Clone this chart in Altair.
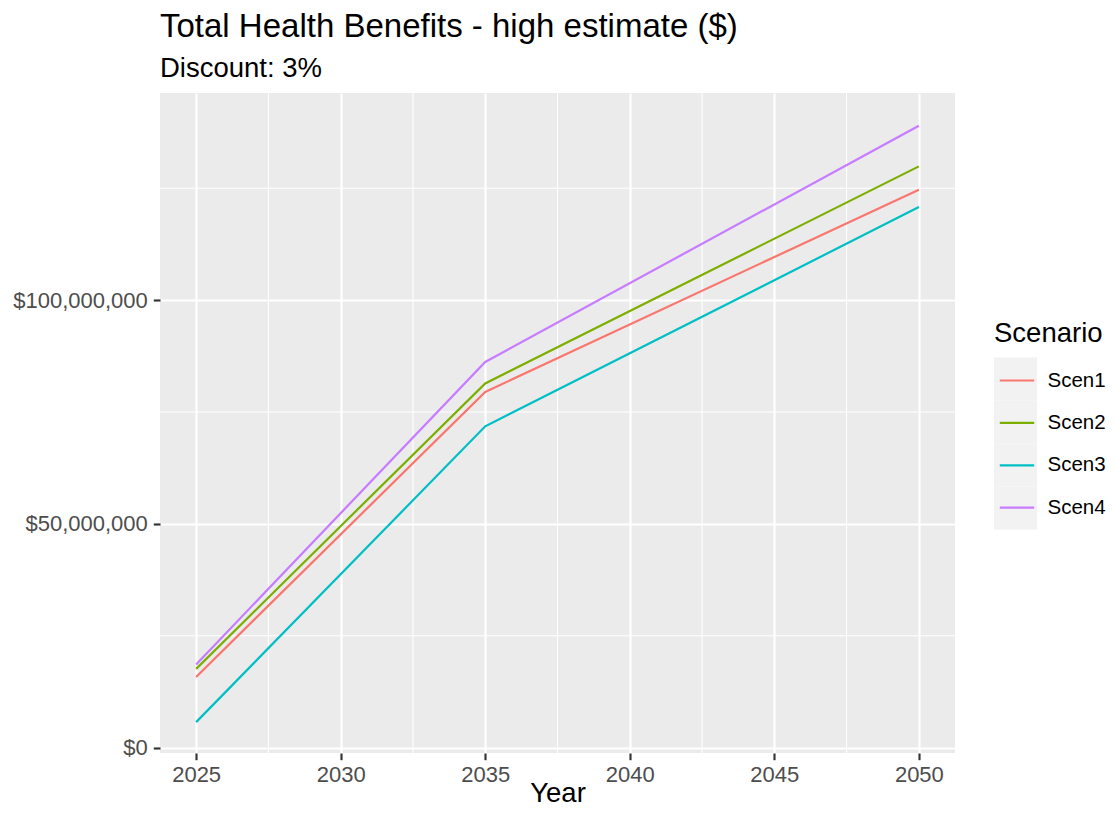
import altair as alt
import pandas as pd

# ---- data ----
years = [2025, 2035, 2050]
scenarios = ["Scen1", "Scen2", "Scen3", "Scen4"]
scen1 = [15.8e6, 79.5e6, 124.7e6]
scen2 = [17.6e6, 81.4e6, 129.9e6]
scen3 = [5.7e6, 71.8e6, 120.8e6]
scen4 = [18.6e6, 86.2e6, 139.0e6]
colors = ["#F8766D", "#7CAE00", "#00BFC4", "#C77CFF"]
x_ticks = [2025, 2030, 2035, 2040, 2045, 2050]
x_minor = [2027.5, 2032.5, 2037.5, 2042.5, 2047.5]
y_ticks = [0, 50e6, 100e6]
y_minor = [25e6, 75e6, 125e6]

rows = []
for name, vals in zip(scenarios, [scen1, scen2, scen3, scen4]):
    for yr, v in zip(years, vals):
        rows.append({"Year": yr, "Value": v, "Scenario": name, "Key": name})
df = pd.DataFrame(rows)

FONT = "Liberation Sans"

xscale = alt.Scale(domain=[2023.75, 2051.25], nice=False, zero=False)
yscale = alt.Scale(domain=[-1.2e6, 146.3e6], nice=False, zero=False)

x_axis = alt.Axis(
    values=x_ticks, format="d", title="Year", grid=True, gridColor="white",
    gridWidth=2.13, domain=False, tickColor="#333333", tickWidth=2.13,
    tickSize=6.7, labelFont=FONT, labelFontSize=22, labelColor="#4D4D4D",
    labelPadding=5, labelFlush=False, labelOverlap=False,
    titleFont=FONT, titleFontSize=27.5, titleFontWeight="normal",
    titleColor="black", titlePadding=-6.5,
)
y_axis = alt.Axis(
    values=y_ticks, format="$,.0f", title=None, grid=True, gridColor="white",
    gridWidth=2.13, domain=False, tickColor="#333333", tickWidth=2.13,
    tickSize=6.7, labelFont=FONT, labelFontSize=22, labelColor="#4D4D4D",
    labelPadding=6, labelFlush=False, labelOverlap=False,
)

stroke_legend = alt.Legend(
    title="Scenario", orient="none", legendX=834, legendY=227, padding=0,
    titleFont=FONT, titleFontSize=27.5, titleFontWeight="normal",
    titleColor="black", titlePadding=10,
    labelFont=FONT, labelFontSize=20.5, labelColor="black", labelOffset=7.5,
    symbolType="M-0.8,0L0.8,0", symbolSize=1849, symbolStrokeWidth=2.2,
    rowPadding=8.4, zindex=2,
)
fill_legend = alt.Legend(
    title="Scenario", orient="none", legendX=834, legendY=227, padding=0,
    titleFont=FONT, titleFontSize=27.5, titleFontWeight="normal",
    titleOpacity=0, titlePadding=10,
    labelFont=FONT, labelFontSize=10, labelOpacity=0, labelOffset=2,
    labelExpr="''",
    symbolType="square", symbolSize=1849, symbolStrokeWidth=0,
    symbolOpacity=1, rowPadding=0, zindex=1,
)

keys = alt.Chart(df).mark_point(opacity=0, filled=True, size=1).encode(
    x=alt.X("Year:Q", scale=xscale, axis=x_axis),
    y=alt.Y("Value:Q", scale=yscale, axis=y_axis),
    fill=alt.Fill("Key:N", scale=alt.Scale(range=["#F2F2F2"] * 4), legend=fill_legend),
)
xminor = alt.Chart(pd.DataFrame({"Year": x_minor})).mark_rule(
    color="white", strokeWidth=1.07
).encode(x=alt.X("Year:Q", scale=xscale, axis=x_axis))
yminor = alt.Chart(pd.DataFrame({"Value": y_minor})).mark_rule(
    color="white", strokeWidth=1.07
).encode(y=alt.Y("Value:Q", scale=yscale, axis=y_axis))
lines = alt.Chart(df).mark_line(strokeWidth=2.2).encode(
    x=alt.X("Year:Q", scale=xscale, axis=x_axis),
    y=alt.Y("Value:Q", scale=yscale, axis=y_axis),
    stroke=alt.Stroke("Scenario:N", scale=alt.Scale(domain=scenarios, range=colors),
                      legend=stroke_legend),
)

chart = alt.layer(keys, xminor, yminor, lines).properties(
    width=795, height=660,
    background="white",
    autosize=alt.AutoSizeParams(type="none"),
    padding={"left": 152, "top": 85, "right": 152, "bottom": 55},
    title=alt.Title(
        "Total Health Benefits - high estimate ($)", subtitle="Discount: 3%",
        anchor="start", frame="group", font=FONT, fontSize=33,
        fontWeight="normal", color="black", subtitleFont=FONT,
        subtitleFontSize=27.5, subtitleColor="black", subtitlePadding=11,
        offset=10,
    ),
).configure_view(fill="#EBEBEB", stroke=None)

chart.save("out.html", embed_options={"renderer": "svg", "actions": False})
